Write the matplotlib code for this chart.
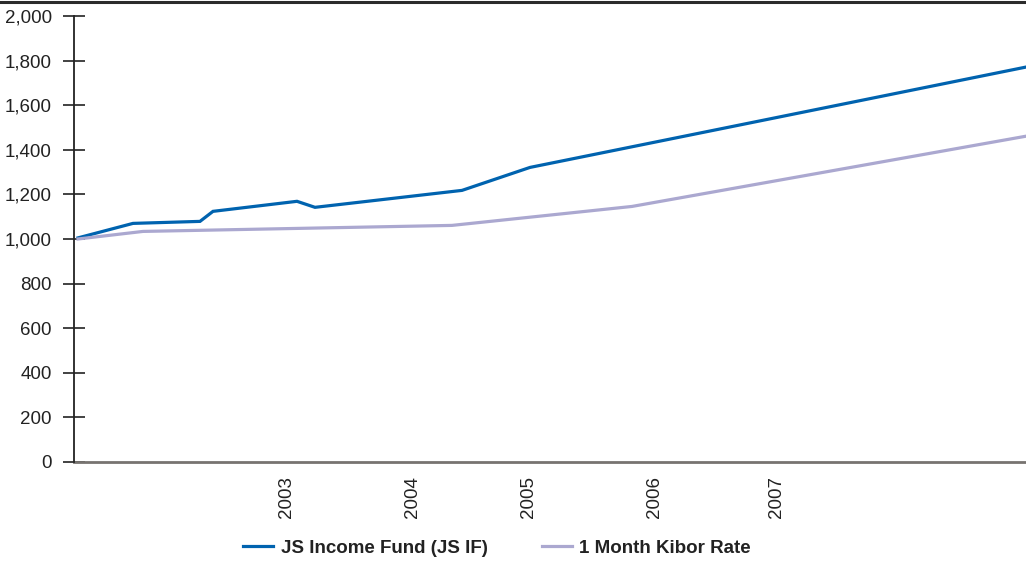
import matplotlib.pyplot as plt
from matplotlib.lines import Line2D

plt.rcParams['font.family'] = ['Liberation Sans', 'DejaVu Sans']

# period positions along the x axis (0 = axis origin)
fund_x = [4, 59, 126, 139, 223, 241, 388, 456, 952]
fund_nav = [1005, 1070, 1079, 1124, 1169, 1142, 1218, 1321, 1771]

kibor_x = [4, 69, 378, 558, 952]
kibor_val = [1000, 1034, 1061, 1146, 1461]

year_pos = [213, 338, 454, 581, 702]
year_labels = ['2003', '2004', '2005', '2006', '2007']

fig = plt.figure(figsize=(10.26, 5.63), dpi=100)
ax = fig.add_axes([74 / 1026, 101 / 563, 952 / 1026, 446 / 563])

ax.plot(fund_x, fund_nav, color='#0063AF', lw=2.3, label='JS Income Fund (JS IF)',
        solid_joinstyle='miter')
ax.plot(kibor_x, kibor_val, color='#ABA8D0', lw=2.3, label='1 Month Kibor Rate')

ax.set_xlim(0, 952)
ax.set_ylim(0, 2000)
ax.set_yticks(range(0, 2001, 200))
ax.set_yticklabels([f'{v:,}' for v in range(0, 2001, 200)])
ax.set_xticks(year_pos)
ax.set_xticklabels(year_labels, rotation=90, va='top')

ax.tick_params(axis='y', direction='inout', length=16, width=1.2, color='#222222',
               labelsize=13.5, labelcolor='#222222', pad=8)
ax.tick_params(axis='x', length=0, labelsize=13.5, labelcolor='#222222', pad=10)

for side in ('top', 'right'):
    ax.spines[side].set_visible(False)
ax.spines['left'].set_color('#222222')
ax.spines['left'].set_linewidth(1.3)
ax.spines['bottom'].set_color('#777370')
ax.spines['bottom'].set_linewidth(2)
ax.spines['left'].set_zorder(3)

# rule across the top of the page
fig.add_artist(Line2D([0, 1], [1 - 2 / 563, 1 - 2 / 563], color='#2b2b2b', lw=2.2,
                      transform=fig.transFigure))

fig.legend(loc='center', bbox_to_anchor=(497 / 1026, 15 / 563), ncol=2, frameon=False,
           prop={'weight': 'bold', 'size': 13.5}, handlelength=1.6, handletextpad=0.4,
           columnspacing=2.9, labelcolor='#222222')

fig.savefig('out.png', dpi=100)
